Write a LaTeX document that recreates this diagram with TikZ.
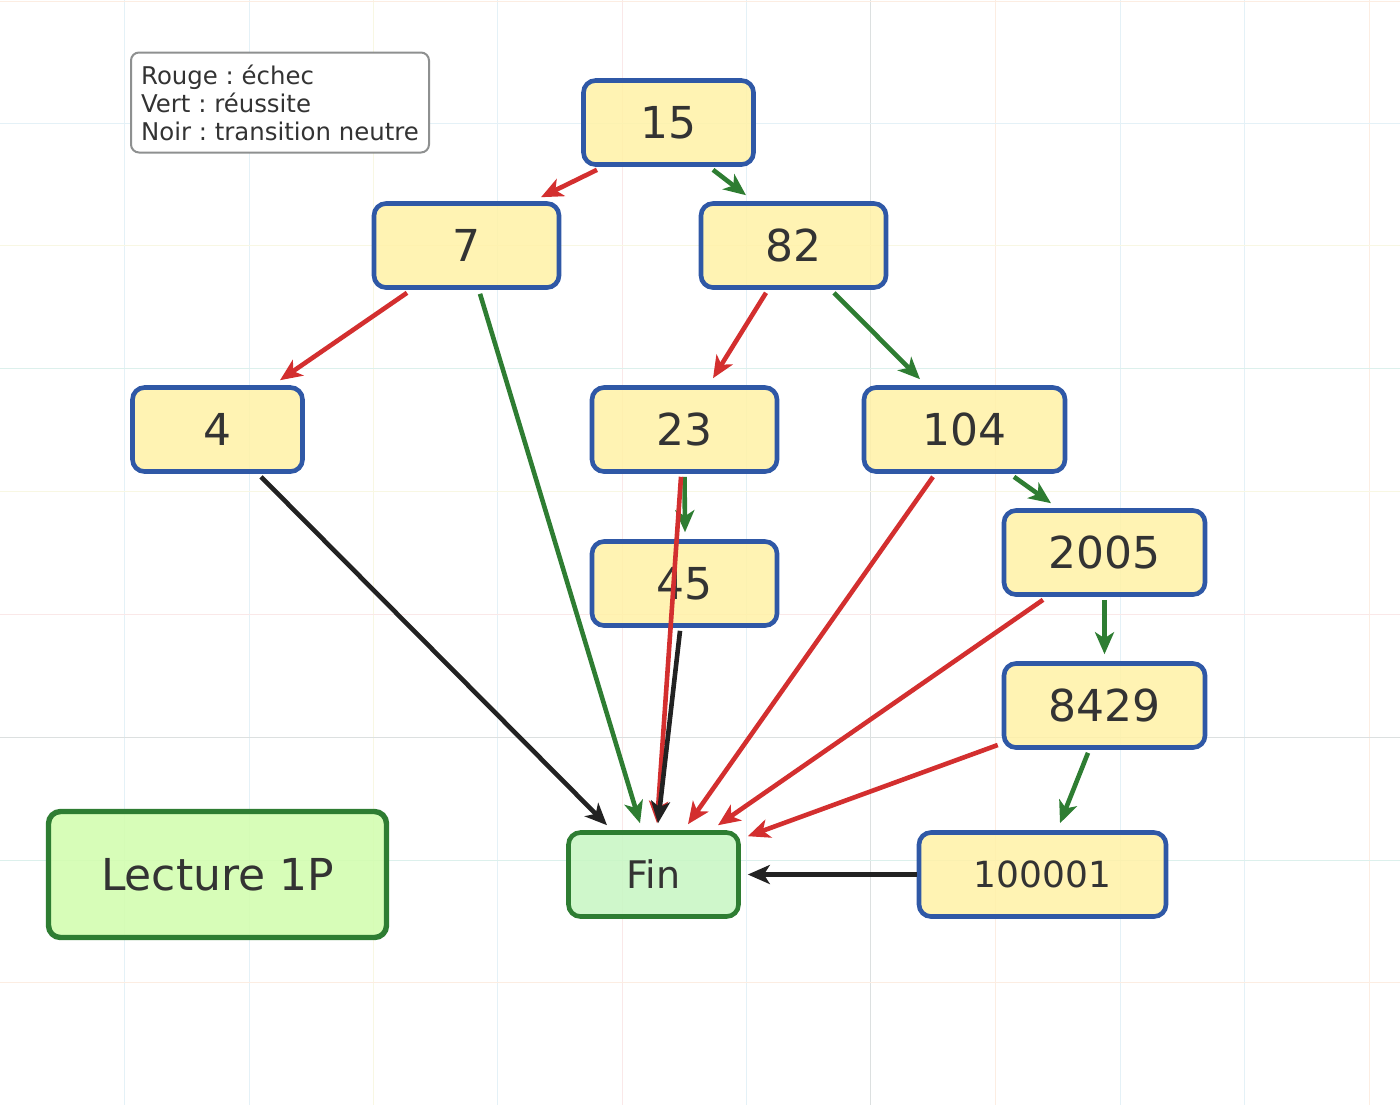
\documentclass[tikz,border=0pt]{standalone}
\usepackage{fontspec}
\setmainfont{DejaVu Sans}
\usepackage{tikz}
\usetikzlibrary{arrows.meta,calc}
\frenchspacing

\definecolor{inktxt}{HTML}{333333}
\definecolor{boxblue}{HTML}{2F58A6}
\definecolor{boxyellow}{HTML}{FFF1A8}
\definecolor{okgreen}{HTML}{2E7D32}
\definecolor{finfill}{HTML}{C8F6C4}
\definecolor{lecfill}{HTML}{D2FDAE}
\definecolor{badred}{HTML}{D32F2F}
\definecolor{plainblack}{HTML}{222222}
\definecolor{legendgray}{HTML}{8E9090}
\definecolor{gridblue}{HTML}{E4F1F7}
\definecolor{gridorange}{HTML}{FCEDE2}
\definecolor{gridyellow}{HTML}{F8F7E3}
\definecolor{gridpink}{HTML}{FAE8E8}
\definecolor{gridgray}{HTML}{DCE0E0}
\definecolor{gridteal}{HTML}{DCF0EC}

\begin{document}
\begin{tikzpicture}[->,>={Stealth[length=11pt,width=9.5pt,inset=3pt]},
    x=0.5pt, y=-0.5pt,
    valbox/.style={rectangle, rounded corners=6pt, draw=boxblue,
                   line width=2.3pt, fill=boxyellow, fill opacity=0.88,
                   text opacity=1, text=inktxt, inner sep=0pt,
                   minimum width=92.5pt, minimum height=42pt,
                   font=\fontsize{22}{26}\selectfont},
    failarrow/.style={draw=badred, line width=2.3pt},
    passarrow/.style={draw=okgreen, line width=2.3pt},
    plainarrow/.style={draw=plainblack, line width=2.3pt}
    ]

    \useasboundingbox (0,0) rectangle (1400,1105);

    %grid
    \foreach \gx/\gc in {124/gridblue, 249/gridblue, 373/gridyellow,
        497/gridblue, 622/gridpink, 746/gridblue, 870/gridgray,
        995/gridorange, 1120/gridblue, 1244/gridblue, 1369/gridorange}
        \draw[-, \gc, line width=0.5pt] (\gx,0) -- (\gx,1105);
    \foreach \gy/\gc in {1/gridorange, 123/gridblue, 245/gridyellow,
        368/gridteal, 491/gridyellow, 614/gridpink, 737/gridgray,
        860/gridteal, 982/gridorange}
        \draw[-, \gc, line width=0.5pt] (0,\gy) -- (1400,\gy);

    \node[rectangle,
          draw = legendgray,
          fill = white,
          line width = 1pt,
          rounded corners = 4pt,
          minimum width = 149pt,
          minimum height = 50pt,
          align = left,
          text = inktxt,
          font = \fontsize{12.2}{14}\selectfont
          ] (legend) at (280,102.5) {Rouge : échec\\Vert : réussite\\Noir : transition neutre};

    \node[rectangle,
          draw = okgreen,
          fill = lecfill,
          fill opacity = 0.88,
          text opacity = 1,
          line width = 2.7pt,
          rounded corners = 6pt,
          minimum width = 169pt,
          minimum height = 63pt,
          text = inktxt,
          font = \fontsize{22}{26}\selectfont
          ] (lecture) at (217.5,874.5) {Lecture 1P};

    \node[valbox, minimum width=85pt] (n15) at (668.5,122.5) {15};
    \node[valbox] (n7) at (466.5,245.5) {7};
    \node[valbox] (n82) at (793.5,245.5) {82};
    \node[valbox, minimum width=85pt] (n4) at (217.5,429.5) {4};
    \node[valbox] (n23) at (684.5,429.5) {23};
    \node[valbox, minimum width=100.5pt] (n104) at (964.5,429.5) {104};
    \node[valbox, minimum width=100.5pt] (n2005) at (1104.5,552.5) {2005};
    \node[valbox] (n45) at (684.5,583.5) {45};
    \node[valbox, minimum width=100.5pt] (n8429) at (1104.5,705.5) {8429};
    \node[valbox, minimum width=123.5pt,
          font=\fontsize{18}{22}\selectfont] (n100001) at (1042.5,874.5) {100001};
    \node[valbox, draw=okgreen, fill=finfill, minimum width=85pt,
          font=\fontsize{19}{23}\selectfont] (fin) at (653.5,874.5) {Fin};

    \path
    %tree
    ($(n15.south)+(-71.5,3)$) edge [failarrow] ($(n7.north)+(74.5,-4)$)
    ($(n15.south)+(44.5,3)$) edge [passarrow] ($(n82.north)+(-47.5,-6)$)
    ($(n7.south)+(-59.5,3)$) edge [failarrow] ($(n4.north)+(62.5,-5)$)
    ($(n82.south)+(-27.5,3)$) edge [failarrow] ($(n23.north)+(28.5,-7)$)
    ($(n82.south)+(40.5,3)$) edge [passarrow] ($(n104.north)+(-44.5,-6)$)
    ($(n23.south)+(0,3)$) edge [passarrow] ($(n45.north)+(0.5,-7)$)
    ($(n104.south)+(49.5,3)$) edge [passarrow] ($(n2005.north)+(-53.5,-5)$)
    ($(n2005.south)+(0,3)$) edge [passarrow] ($(n8429.north)+(0,-7)$)
    ($(n8429.south)+(-16.5,3)$) edge [passarrow] ($(n100001.north)+(17.5,-7)$)
    %to fin
    ($(n7.south)+(13.5,4)$) edge [passarrow] ($(fin.north)+(-13.5,-7)$)
    ($(n4.south)+(43.5,3)$) edge [plainarrow] ($(fin.north)+(-46.5,-5)$)
    ($(n23.south)+(-3.5,3)$) edge [failarrow] ($(fin.north)+(3.5,-7)$)
    ($(n45.south)+(-4.5,3)$) edge [plainarrow] ($(fin.north)+(4.5,-7)$)
    ($(n104.south)+(-31.5,3)$) edge [failarrow] ($(fin.north)+(34.5,-6)$)
    ($(n2005.south)+(-61.5,3)$) edge [failarrow] ($(fin.north)+(64.5,-5)$)
    ($(n8429.west)+(-4,39.5)$) edge [failarrow] ($(fin.north east)+(7,6)$)
    (n100001.west) edge [plainarrow] ($(fin.east)+(7,0)$);

\end{tikzpicture}
\end{document}
